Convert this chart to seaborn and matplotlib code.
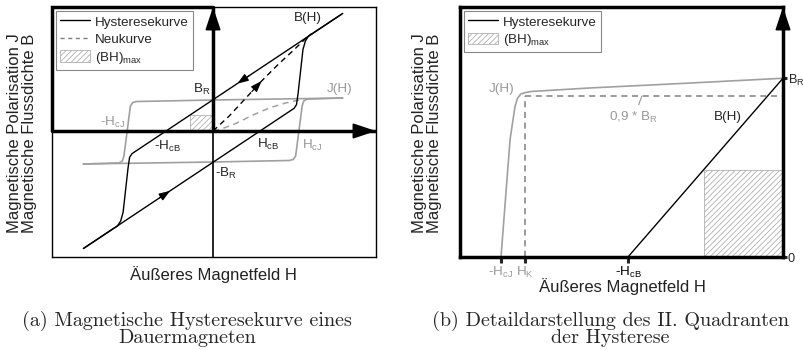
import numpy as np
import matplotlib
matplotlib.use("Agg")
import matplotlib.pyplot as plt
from matplotlib.patches import Rectangle, Patch
from matplotlib.lines import Line2D
import seaborn as sns

sns.set_theme(style="white")
plt.rcParams["font.family"] = ["Liberation Sans", "DejaVu Sans"]
plt.rcParams["mathtext.fontset"] = "custom"
plt.rcParams["mathtext.rm"] = "Liberation Sans"
plt.rcParams["mathtext.it"] = "Liberation Sans:italic"
plt.rcParams["mathtext.bf"] = "Liberation Sans:bold"
plt.rcParams["hatch.linewidth"] = 0.6

# ---------------- (a) full hysteresis loop (normalised units) ----------------
# B(H), descending branch (from positive saturation to negative)
b_upper_H = [0.80, -0.50, -0.515, -0.525, -0.555, -0.570, -0.590, -0.620, -0.80]
b_upper_B = [0.94, -0.181, -0.21, -0.30, -0.65, -0.72, -0.76, -0.785, -0.94]
# B(H), ascending branch
b_lower_H = [-0.80, 0.50, 0.515, 0.525, 0.555, 0.570, 0.590, 0.620, 0.80]
b_lower_B = [-0.94, 0.181, 0.21, 0.30, 0.65, 0.72, 0.76, 0.785, 0.94]
# J(H), descending and ascending branch
j_upper_H = [0.80, 0.0, -0.47, -0.495, -0.51, -0.53, -0.55, -0.56, -0.58, -0.80]
j_upper_J = [0.264, 0.248, 0.236, 0.228, 0.20, 0.0, -0.20, -0.24, -0.255, -0.264]
j_lower_H = [-0.80, 0.0, 0.47, 0.495, 0.51, 0.53, 0.55, 0.56, 0.58, 0.80]
j_lower_J = [-0.264, -0.248, -0.236, -0.228, -0.20, 0.0, 0.20, 0.24, 0.255, 0.264]
# initial magnetisation curves (Neukurve)
neu_J_H = [0.0, 0.06, 0.14, 0.25, 0.35, 0.45, 0.52, 0.56]
neu_J = [0.0, 0.02, 0.06, 0.13, 0.185, 0.225, 0.245, 0.252]
neu_B_H = [0.0, 0.10, 0.20, 0.30, 0.40, 0.50, 0.58, 0.61]
neu_B = [0.0, 0.12, 0.26, 0.40, 0.53, 0.65, 0.75, 0.78]
# (BH)max working point in quadrant II
bhmax_a_H = -0.145
bhmax_a_B = 0.125

# ---------------- (b) detail of quadrant II ----------------
B_R = 0.715
H_cB = 0.48
H_cJ = 0.873
H_K = 0.80
knee_frac = 0.9
jb_H = [-0.873, -0.845, -0.830, -0.822, -0.812, -0.80, -0.78, -0.60, -0.30, 0.0]
jb_J = [0.0, 0.47, 0.60, 0.635, 0.652, 0.657, 0.662, 0.676, 0.695, 0.715]
bb_H = [-H_cB, 0.0]
bb_B = [0.0, B_R]
bhmax_b_H = -0.245
bhmax_b_B = 0.35

GRAY = "#a0a0a0"
TGRAY = "#999999"
FS = 9.7
LBL = 12
YLABEL = "Magnetische Polarisation J\nMagnetische Flussdichte B"
XLABEL = "Äußeres Magnetfeld H"

fig = plt.figure(figsize=(8.04, 3.5), dpi=100)
W, Hh = 804, 350


def px_axes(l, t, r, b):
    return fig.add_axes([l / W, 1 - b / Hh, (r - l) / W, (b - t) / Hh])


def px_text(x, y, s, **kw):
    return fig.text(x / W, 1 - y / Hh, s, **kw)


def curve_arrow(ax, xs, ys, x_tail, x_tip):
    xs = np.asarray(xs, float)
    ys = np.asarray(ys, float)
    o = np.argsort(xs)
    y_tail = np.interp(x_tail, xs[o], ys[o])
    y_tip = np.interp(x_tip, xs[o], ys[o])
    ax.annotate("", xy=(x_tip, y_tip), xytext=(x_tail, y_tail),
                arrowprops=dict(arrowstyle="-|>,head_length=0.55,head_width=0.2",
                                mutation_scale=12, color="black", lw=0.9,
                                shrinkA=0, shrinkB=0))


def style_legend(leg):
    leg.get_frame().set_linewidth(0.8)
    leg.set_zorder(5)


AXARROW = dict(arrowstyle="-|>,head_length=1.2,head_width=0.4",
               mutation_scale=12, color="black", lw=1.2, shrinkA=0, shrinkB=0)
LEGKW = dict(loc="upper left", bbox_to_anchor=(0.0, 1.0), borderaxespad=0.3,
             fontsize=FS, frameon=True, fancybox=False, framealpha=1,
             edgecolor="#888888", handlelength=2.2, handleheight=0.95,
             handletextpad=0.4, labelspacing=0.28, borderpad=0.3)
AXLBL = dict(fontsize=LBL, ha="center", va="center", color="#222222")

# ======================= panel (a) =======================
ax = px_axes(52, 7, 376, 257)
xmin, xmax = -0.994, 1.006
ymin, ymax = -1.008, 0.992
ax.set_xlim(xmin, xmax)
ax.set_ylim(ymin, ymax)
ax.set_xticks([])
ax.set_yticks([])
for s in ax.spines.values():
    s.set_linewidth(1.0)
    s.set_color("black")

# (BH)max area
ax.add_patch(Rectangle((bhmax_a_H, 0), -bhmax_a_H, bhmax_a_B, facecolor="white",
                       edgecolor="#b0b0b0", hatch="//////", lw=0.6, zorder=1))

sns.lineplot(x=j_upper_H, y=j_upper_J, sort=False, estimator=None, color=GRAY, lw=1.2, ax=ax)
sns.lineplot(x=j_lower_H, y=j_lower_J, sort=False, estimator=None, color=GRAY, lw=1.2, ax=ax)
sns.lineplot(x=neu_J_H, y=neu_J, sort=False, estimator=None, color=GRAY, lw=1.1, ax=ax)
ax.lines[-1].set_dashes((4, 3))
sns.lineplot(x=b_upper_H, y=b_upper_B, sort=False, estimator=None, color="black", lw=1.0, ax=ax)
sns.lineplot(x=b_lower_H, y=b_lower_B, sort=False, estimator=None, color="black", lw=1.0, ax=ax)
sns.lineplot(x=neu_B_H, y=neu_B, sort=False, estimator=None, color="black", lw=1.0, ax=ax)
ax.lines[-1].set_dashes((4, 3))

# coordinate axes
y0 = (0 - ymin) / (ymax - ymin)
ax.axhline(0, color="black", lw=2.5, zorder=3)
ax.axvline(0, ymin=y0, ymax=1, color="black", lw=2.5, zorder=3)
ax.axvline(0, ymin=0, ymax=y0, color="black", lw=1.2, zorder=3)
ax.plot([xmin, xmin, 0], [0, ymax, ymax], color="black", lw=2.5, clip_on=False,
        solid_joinstyle="miter", zorder=4)
ax.annotate("", xy=(0, 1), xycoords=("data", "axes fraction"), xytext=(0, 0.93),
            arrowprops=AXARROW)
ax.annotate("", xy=(1, 0), xycoords=("axes fraction", "data"), xytext=(0.95, 0),
            arrowprops=AXARROW)

# direction arrows
curve_arrow(ax, b_upper_H, b_upper_B, 0.22, 0.15)
curve_arrow(ax, neu_B_H, neu_B, 0.24, 0.30)
curve_arrow(ax, b_lower_H, b_lower_B, -0.33, -0.265)

# labels
ax.text(0.586, 0.90, "B(H)", fontsize=FS, ha="center", va="center")
ax.text(0.784, 0.336, "J(H)", fontsize=FS, ha="center", va="center", color=TGRAY)
ax.text(-0.015, 0.33, r"B$_\mathrm{R}$", fontsize=FS, ha="right", va="center")
ax.text(-0.62, 0.07, r"-H$_\mathrm{cJ}$", fontsize=FS, ha="center", va="center", color=TGRAY)
ax.text(-0.28, -0.125, r"-H$_\mathrm{cB}$", fontsize=FS, ha="center", va="center")
ax.text(0.34, -0.11, r"H$_\mathrm{cB}$", fontsize=FS, ha="center", va="center")
ax.text(0.61, -0.115, r"H$_\mathrm{cJ}$", fontsize=FS, ha="center", va="center", color=TGRAY)
ax.text(0.012, -0.34, r"-B$_\mathrm{R}$", fontsize=FS, ha="left", va="center")

handles_a = [
    Line2D([], [], color="black", lw=1.0),
    Line2D([], [], color="#808080", lw=1.0, dashes=(3, 2.5)),
    Patch(facecolor="white", edgecolor="#b0b0b0", hatch="//////", lw=0.6),
]
style_legend(ax.legend(handles_a, ["Hysteresekurve", "Neukurve", r"(BH)$_\mathrm{max}$"],
                       **LEGKW))
ax.set_xlabel("")
ax.set_ylabel("")

# ======================= panel (b) =======================
ax2 = px_axes(460, 7, 783, 257)
ax2.set_xlim(-1, 0)
ax2.set_ylim(0, 1)
for s in ax2.spines.values():
    s.set_linewidth(2.5)
    s.set_color("black")

ax2.add_patch(Rectangle((bhmax_b_H, 0), -bhmax_b_H, bhmax_b_B, facecolor="white",
                        edgecolor="#b0b0b0", hatch="//////", lw=0.6, zorder=1))
sns.lineplot(x=jb_H, y=jb_J, sort=False, estimator=None, color=GRAY, lw=1.2, ax=ax2)
sns.lineplot(x=bb_H, y=bb_B, sort=False, estimator=None, color="black", lw=1.0, ax=ax2)
ax2.hlines(knee_frac * B_R, -H_K, 0, color="#808080", lw=1.1, linestyles=(0, (4, 3)))
ax2.vlines(-H_K, 0, knee_frac * B_R, color="#808080", lw=1.1, linestyles=(0, (4, 3)))

ax2.annotate("", xy=(1, 1), xycoords="axes fraction", xytext=(1, 0.93),
             arrowprops=AXARROW)

ax2.set_xticks([-H_cJ, -H_K, -H_cB])
ax2.set_xticklabels([r"-H$_\mathrm{cJ}$", r"H$_\mathrm{K}$", r"-H$_\mathrm{cB}$"], fontsize=FS)
for lab, c in zip(ax2.get_xticklabels(), [TGRAY, TGRAY, "black"]):
    lab.set_color(c)
ax2.set_yticks([0, B_R])
ax2.set_yticklabels(["0", r"B$_\mathrm{R}$"], fontsize=FS - 0.5)
ax2.tick_params(axis="x", bottom=True, direction="out", length=4, width=2.2, pad=1.5)
ax2.tick_params(axis="y", left=False, right=True, labelleft=False, labelright=True,
                direction="out", length=3, width=2.2, pad=0.5)

ax2.text(-0.87, 0.672, "J(H)", fontsize=FS, ha="center", va="center", color=TGRAY)
ax2.annotate(r"0,9 * B$_\mathrm{R}$", xy=(-0.437, knee_frac * B_R), xytext=(-0.464, 0.56),
             fontsize=FS, ha="center", va="center", color=TGRAY,
             arrowprops=dict(arrowstyle="-", color=TGRAY, lw=0.8, shrinkA=1, shrinkB=0,
                             relpos=(0.58, 1.0)))
ax2.text(-0.17, 0.56, "B(H)", fontsize=FS, ha="center", va="center")

handles_b = [
    Line2D([], [], color="black", lw=1.0),
    Patch(facecolor="white", edgecolor="#b0b0b0", hatch="//////", lw=0.6),
]
style_legend(ax2.legend(handles_b, ["Hysteresekurve", r"(BH)$_\mathrm{max}$"], **LEGKW))
ax2.set_xlabel("")
ax2.set_ylabel("")

# ======================= axis titles =======================
px_text(22, 133, YLABEL, rotation=90, linespacing=1.0, **AXLBL)
px_text(213, 275, XLABEL, **AXLBL)
px_text(427, 133, YLABEL, rotation=90, linespacing=1.0, **AXLBL)
px_text(622, 287, XLABEL, **AXLBL)

# ======================= captions =======================
cap = dict(fontsize=14.5, family="cmr10", ha="center", va="center", linespacing=0.85)
px_text(187, 328.5, "(a) Magnetische Hysteresekurve eines\nDauermagneten", **cap)
px_text(610, 328.5, "(b) Detaildarstellung des II. Quadranten\nder Hysterese", **cap)

fig.savefig("out.png", dpi=100)
